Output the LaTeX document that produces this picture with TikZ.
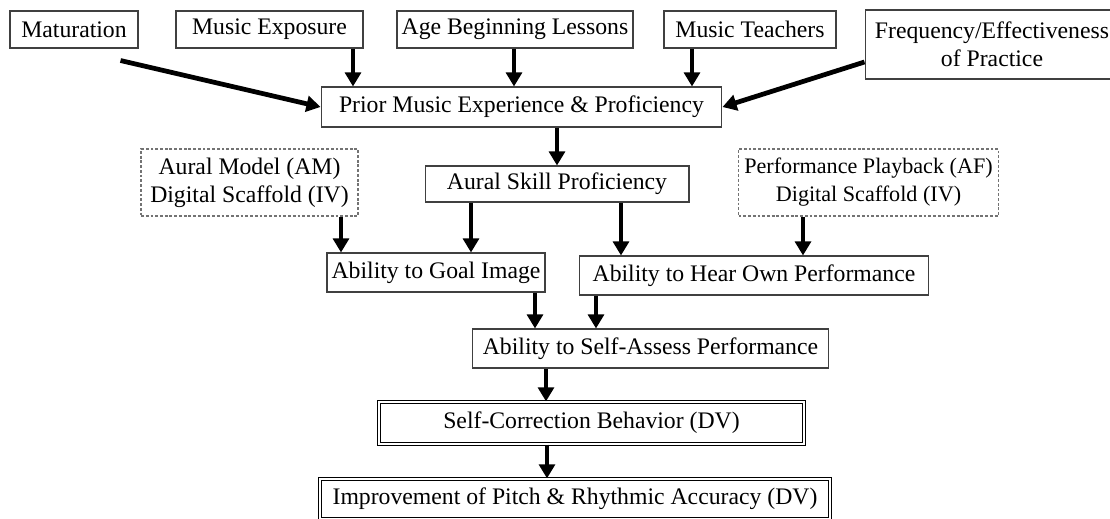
\documentclass[tikz,border=0pt]{standalone}
\usepackage{fontspec}
\setmainfont{Liberation Serif}
\usepackage{tikz}
\usetikzlibrary{positioning,calc,arrows.meta}
\tikzstyle{box} = [rectangle, draw=black!75, line width=0.6pt, inner sep=0pt, text centered, align=center, font=\fontsize{13.5}{16}\selectfont]
\tikzstyle{dashbox} = [box, draw=black!55, dash pattern=on 1.6pt off 1.1pt]
\tikzstyle{dblbox} = [box, draw=black, double, double distance=1.1pt, line width=0.7pt]
\tikzstyle{arrow} = [line width=2.7pt, -{Triangle[length=8pt,width=9pt]}]

\begin{document}
\begin{tikzpicture}[x=0.02cm,y=-0.02cm]
\useasboundingbox (0,0) rectangle (1110,518);
% top row
\node[box, minimum width=2.56cm, minimum height=0.74cm] (mat) at (74,29.5) {Maturation};
\node[box, minimum width=3.74cm, minimum height=0.74cm] (expo) at (269.5,29.5) {Music Exposure};
\node[box, minimum width=4.72cm, minimum height=0.74cm] (age) at (515,29.5) {Age Beginning Lessons};
\node[box, minimum width=3.44cm, minimum height=0.74cm] (teach) at (750,29.5) {Music Teachers};
\node[box, minimum width=5.08cm, minimum height=1.38cm] (freq) at (992,44.5) {Frequency/Effectiveness\\of Practice};
\node[box, minimum width=8.02cm, minimum height=0.8cm] (prior) at (521.5,107) {Prior Music Experience \& Proficiency};
% middle
\node[dashbox, minimum width=4.34cm, minimum height=1.34cm] (model) at (249.5,182.5) {Aural Model (AM)\\Digital Scaffold (IV)};
\node[box, minimum width=5.28cm, minimum height=0.72cm] (skill) at (557,184) {Aural Skill Proficiency};
\node[dashbox, minimum width=5.2cm, minimum height=1.34cm, font=\fontsize{12.6}{16}\selectfont] (play) at (868.5,182.5) {Performance Playback (AF)\\Digital Scaffold (IV)};
\node[box, minimum width=4.36cm, minimum height=0.78cm] (goal) at (436,272.5) {Ability to Goal Image};
\node[box, minimum width=7cm, minimum height=0.78cm] (hear) at (754,275.5) {Ability to Hear Own Performance};
% bottom
\node[box, minimum width=7.14cm, minimum height=0.78cm] (assess) at (650.5,348.5) {Ability to Self-Assess Performance};
\node[dblbox, minimum width=8.5cm, minimum height=0.84cm] (corr) at (591.5,423) {Self-Correction Behavior (DV)};
\node[dblbox, minimum width=10.2cm, minimum height=0.8cm] (impr) at (575,499) {Improvement of Pitch \& Rhythmic Accuracy (DV)};

\coordinate (mattail) at ($(mat.south east)+(-18,12)$);
\draw[arrow] (mattail) -- (prior.west);
\draw[arrow] (expo.south -| 353,0) -- (prior.north -| 353,0);
\draw[arrow] (age.south -| 514,0) -- (prior.north -| 514,0);
\draw[arrow] (teach.south -| 692,0) -- (prior.north -| 692,0);
\draw[arrow] (freq.west |- 0,62) -- (prior.east);
\draw[arrow] (prior.south -| 557,0) -- (skill.north -| 557,0);
\draw[arrow] (model.south -| 341,0) -- (goal.north -| 341,0);
\draw[arrow] (skill.south -| 471,0) -- (goal.north -| 471,0);
\draw[arrow] (skill.south -| 621,0) -- (hear.north -| 621,0);
\draw[arrow] (play.south -| 803,0) -- (hear.north -| 803,0);
\draw[arrow] (goal.south -| 535,0) -- (assess.north -| 535,0);
\draw[arrow] (hear.south -| 596,0) -- (assess.north -| 596,0);
\draw[arrow] (assess.south -| 546,0) -- (corr.north -| 546,0);
\draw[arrow] (corr.south -| 547,0) -- (impr.north -| 547,0);
\end{tikzpicture}
\end{document}
